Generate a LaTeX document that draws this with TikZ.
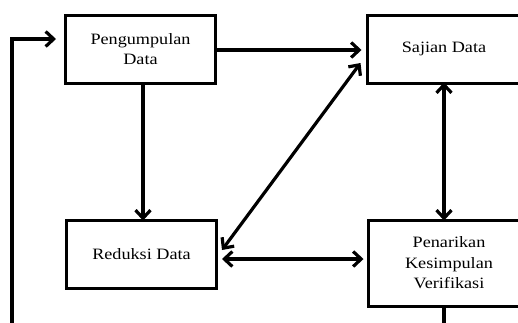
\documentclass[tikz,border=0pt]{standalone}
\usepackage{fontspec}
\setmainfont{Liberation Serif}[FakeStretch=1.15]
\usetikzlibrary{arrows.meta,calc}
\begin{document}
\begin{tikzpicture}[x=1pt,y=-1pt,
  box/.style={draw,line width=3pt,rectangle,inner sep=0pt,align=center,text=black,
    font=\fontsize{15.8}{20.5}\selectfont},
  conn/.style={line width=3.2pt},
  arr/.style={conn,-{Straight Barb[length=8pt,width=15pt,line width=3.2pt]}},
  darr/.style={conn,{Straight Barb[length=8pt,width=15pt,line width=3.2pt]}-{Straight Barb[length=8pt,width=15pt,line width=3.2pt]}}]
\useasboundingbox (0,0) rectangle (518,322);
\clip (0,0) rectangle (518,322);
\node[box,minimum width=150pt,minimum height=68pt] (A) at (140.5,49) {Pengumpulan\\Data};
\node[box,minimum width=154pt,minimum height=68pt] (B) at (444,49) {Sajian Data};
\node[box,minimum width=150pt,minimum height=68pt] (C) at (141.5,254) {Reduksi Data};
\node[box,minimum width=162pt,minimum height=86pt] (D) at (449,263) {Penarikan\\Kesimpulan\\Verifikasi};
\coordinate (fb) at (12,330);
\coordinate (dout) at (444,330);
% connectors
\draw[arr] ([yshift=-1pt]A.east) -- ([xshift=-4pt,yshift=-1pt]B.west);
\draw[arr] (A.south -| 143,0) -- ([yshift=-2pt]C.north -| 143,0);
\draw[darr] ($(C.east)+(4,-4)$) -- ($(B.west)+(-5,14)$);
\draw[darr] ([shift={(4,5)}]C.east) -- ([shift={(-3,-4)}]D.west);
\draw[darr] ([yshift=2pt]B.south) -- ([yshift=-2pt]B.south |- D.north);
\draw[arr] (fb) |- ([shift={(-8,-10)}]A.west);
\draw[conn] (D.south -| dout) -- (dout);
\end{tikzpicture}
\end{document}
